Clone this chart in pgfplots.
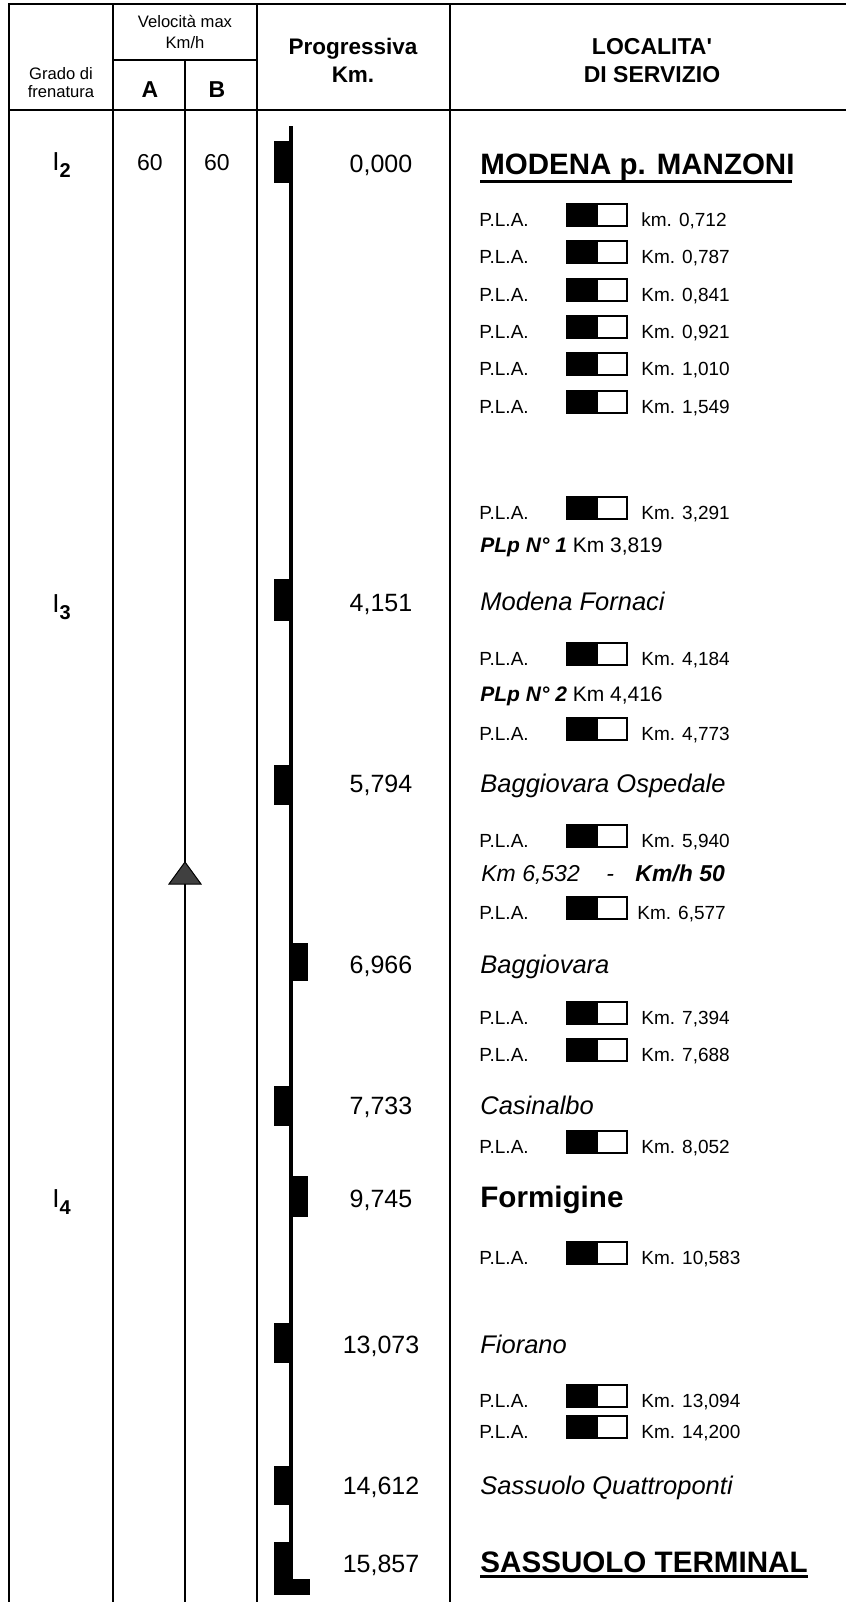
\documentclass[border=0pt]{standalone}
\usepackage{pgfplots}
\pgfplotsset{compat=1.18}
\usepackage{fontspec}
\setmainfont{Liberation Sans}
\newcommand{\fs}[1]{\fontsize{#1}{#1}\selectfont}
% P.L.A. row: [x of km text] {box top} {baseline} {km text}
\newcommand{\pla}[4][641]{%
  \addplot[fill=black,draw=black,line width=0.6pt] coordinates {(567,#2) (597,#2) (597,#3) (567,#3)} -- cycle;
  \addplot[fill=white,draw=black,line width=0.6pt] coordinates {(597,#2) (627,#2) (627,#3) (597,#3)} -- cycle;
  \node[anchor=base west,inner sep=0pt,font=\fs{9.5}] at (axis cs:479,#3) {P.L.A.};
  \node[anchor=base west,inner sep=0pt,font=\fs{9.5}] at (axis cs:#1,#3) {#4};
}
% station marker on the track: {x left} {x right} {top} {bottom}
\newcommand{\stn}[4]{%
  \addplot[fill=black,draw=none] coordinates {(#1,#3) (#2,#3) (#2,#4) (#1,#4)} -- cycle;
}
\begin{document}
\begin{tikzpicture}
\begin{axis}[
name = ax,
width = 423pt,
height = 801pt,
scale only axis,
xmin = 0, xmax = 846,
ymin = 0, ymax = 1602,
y dir = reverse,
axis lines = none,
clip = false,
no markers,
]
% table frame
\addplot[line width=1.4pt] coordinates {(8,4) (846,4)};
\addplot[line width=1.4pt] coordinates {(8,110) (846,110)};
\addplot[line width=0.8pt] coordinates {(113,60) (257,60)};
\addplot[line width=0.8pt] coordinates {(9,4) (9,1602)};
\addplot[line width=0.8pt] coordinates {(113,4) (113,1602)};
\addplot[line width=0.8pt] coordinates {(257,4) (257,1602)};
\addplot[line width=0.8pt] coordinates {(450,4) (450,1602)};
\addplot[line width=0.7pt] coordinates {(185,60) (185,1602)};

% header
\node[anchor=base,inner sep=0pt,font=\fs{8.3}] at (axis cs:61,79) {Grado di};
\node[anchor=base,inner sep=0pt,font=\fs{8.3}] at (axis cs:61,97) {frenatura};
\node[anchor=base,inner sep=0pt,font=\fs{8.3}] at (axis cs:185,27) {Velocità max};
\node[anchor=base,inner sep=0pt,font=\fs{8.3}] at (axis cs:185,48) {Km/h};
\node[anchor=base,inner sep=0pt,font=\fs{11.5}\bfseries] at (axis cs:150,97) {A};
\node[anchor=base,inner sep=0pt,font=\fs{11.5}\bfseries] at (axis cs:217,97) {B};
\node[anchor=base,inner sep=0pt,font=\fs{11.25}\bfseries] at (axis cs:353,54) {Progressiva};
\node[anchor=base,inner sep=0pt,font=\fs{11.25}\bfseries] at (axis cs:353,82) {Km.};
\node[anchor=base,inner sep=0pt,font=\fs{11.5}\bfseries] at (axis cs:652,54) {LOCALITA\textquotesingle};
\node[anchor=base,inner sep=0pt,font=\fs{11.5}\bfseries] at (axis cs:652,82) {DI SERVIZIO};

% braking grade and speeds
\node[anchor=base west,inner sep=0pt,font=\fs{13}] at (axis cs:52,170) {I\raisebox{-3.5pt}{\bfseries\fs{10}2}};
\node[anchor=base west,inner sep=0pt,font=\fs{13}] at (axis cs:52,612) {I\raisebox{-3.5pt}{\bfseries\fs{10}3}};
\node[anchor=base west,inner sep=0pt,font=\fs{13}] at (axis cs:52,1207) {I\raisebox{-3.5pt}{\bfseries\fs{10}4}};
\node[anchor=base,inner sep=0pt,font=\fs{11.5}] at (axis cs:150,170) {60};
\node[anchor=base,inner sep=0pt,font=\fs{11.5}] at (axis cs:217,170) {60};
\addplot[fill=black!75,draw=black,line width=0.5pt] coordinates {(185,862) (201,884) (169,884)} -- cycle;

% track with stations
\addplot[line width=2pt] coordinates {(291,126) (291,1595)};
\stn{274}{291}{141}{183}
\stn{274}{291}{579}{621}
\stn{274}{291}{765}{805}
\stn{291}{308}{943}{981}
\stn{274}{291}{1086}{1126}
\stn{291}{308}{1176}{1217}
\stn{274}{291}{1323}{1363}
\stn{274}{291}{1466}{1505}
\stn{274}{291}{1542}{1595}
\stn{274}{310}{1579}{1595}

% progressive km
\node[anchor=base,inner sep=0pt,font=\fs{12.5}] at (axis cs:381,172) {0,000};
\node[anchor=base,inner sep=0pt,font=\fs{12.5}] at (axis cs:381,611) {4,151};
\node[anchor=base,inner sep=0pt,font=\fs{12.5}] at (axis cs:381,792) {5,794};
\node[anchor=base,inner sep=0pt,font=\fs{12.5}] at (axis cs:381,973) {6,966};
\node[anchor=base,inner sep=0pt,font=\fs{12.5}] at (axis cs:381,1114) {7,733};
\node[anchor=base,inner sep=0pt,font=\fs{12.5}] at (axis cs:381,1207) {9,745};
\node[anchor=base,inner sep=0pt,font=\fs{12.5}] at (axis cs:381,1353) {13,073};
\node[anchor=base,inner sep=0pt,font=\fs{12.5}] at (axis cs:381,1494) {14,612};
\node[anchor=base,inner sep=0pt,font=\fs{12.5}] at (axis cs:381,1572) {15,857};

% stations
\node[anchor=base west,inner sep=0pt,font=\fs{14.75}\bfseries] at (axis cs:480,174) {MODENA p. MANZONI};
\addplot[line width=1.5pt] coordinates {(480,181) (792,181)};
\node[anchor=base west,inner sep=0pt,font=\fs{12.75}\itshape] at (axis cs:480,610) {Modena Fornaci};
\node[anchor=base west,inner sep=0pt,font=\fs{12.75}\itshape] at (axis cs:480,792) {Baggiovara Ospedale};
\node[anchor=base west,inner sep=0pt,font=\fs{12.75}\itshape] at (axis cs:480,973) {Baggiovara};
\node[anchor=base west,inner sep=0pt,font=\fs{12.75}\itshape] at (axis cs:480,1114) {Casinalbo};
\node[anchor=base west,inner sep=0pt,font=\fs{14.8}\bfseries] at (axis cs:480,1207) {Formigine};
\node[anchor=base west,inner sep=0pt,font=\fs{12.75}\itshape] at (axis cs:480,1353) {Fiorano};
\node[anchor=base west,inner sep=0pt,font=\fs{12.75}\itshape] at (axis cs:480,1494) {Sassuolo Quattroponti};
\node[anchor=base west,inner sep=0pt,font=\fs{14.8}\bfseries] at (axis cs:480,1572) {SASSUOLO TERMINAL};
\addplot[line width=1.5pt] coordinates {(480,1576) (808,1576)};

% level crossings
\pla{204}{226}{km. 0,712}
\pla{241}{263}{Km. 0,787}
\pla{279}{301}{Km. 0,841}
\pla{316}{338}{Km. 0,921}
\pla{353}{375}{Km. 1,010}
\pla{391}{413}{Km. 1,549}
\pla{497}{519}{Km. 3,291}
\node[anchor=base west,inner sep=0pt,font=\fs{10.5}] at (axis cs:480,552) {\textbf{\textit{PLp N° 1}} Km 3,819};
\pla{643}{665}{Km. 4,184}
\node[anchor=base west,inner sep=0pt,font=\fs{10.5}] at (axis cs:480,701) {\textbf{\textit{PLp N° 2}} Km 4,416};
\pla{718}{740}{Km. 4,773}
\pla{825}{847}{Km. 5,940}
\node[anchor=base west,inner sep=0pt,font=\fs{11.5}\itshape] at (axis cs:481,881) {Km 6,532};
\node[anchor=base west,inner sep=0pt,font=\fs{11.5}\itshape] at (axis cs:606,881) {-};
\node[anchor=base west,inner sep=0pt,font=\fs{11.5}\bfseries\itshape] at (axis cs:635,881) {Km/h 50};
\pla[637]{897}{919}{Km. 6,577}
\pla{1002}{1024}{Km. 7,394}
\pla{1039}{1061}{Km. 7,688}
\pla{1131}{1153}{Km. 8,052}
\pla{1242}{1264}{Km. 10,583}
\pla{1385}{1407}{Km. 13,094}
\pla{1416}{1438}{Km. 14,200}
\end{axis}
\pgfresetboundingbox
\path[use as bounding box] (ax.south west) rectangle (ax.north east);
\end{tikzpicture}
\end{document}
